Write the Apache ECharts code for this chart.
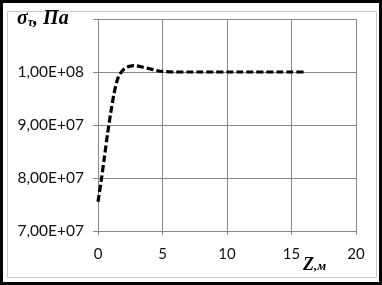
<!DOCTYPE html>
<html><head><meta charset="utf-8">
<script src="https://cdn.jsdelivr.net/npm/echarts@6/dist/echarts.min.js"></script>
<style>html,body{margin:0;padding:0;background:#fff}#c{width:382px;height:285px}</style>
</head><body><div id="c"></div>
<script>
const zValues = [0, 0.25, 0.5, 0.75, 1.0, 1.25, 1.5, 1.75, 2.0, 2.25, 2.5, 2.75, 3.0, 3.5, 4.0, 4.5, 5.0, 6, 7, 8, 9, 10, 11, 12, 13, 14, 15, 16];
const stressValues = [7.55e7, 7.95e7, 8.4e7, 8.85e7, 9.25e7, 9.6e7, 9.85e7, 9.98e7, 1.005e8, 1.009e8, 1.011e8, 1.012e8, 1.0115e8, 1.009e8, 1.006e8, 1.003e8, 1.001e8, 1.0e8, 1.0e8, 1.0e8, 1.0e8, 1.0e8, 1.0e8, 1.0e8, 1.0e8, 1.0e8, 1.0e8, 1.0e8];
const xTicks = [0, 5, 10, 15, 20];
const yTicks = [7e7, 8e7, 9e7, 1e8];

function sci(v) {
  const e = Math.floor(Math.log10(v) + 1e-9);
  const m = v / Math.pow(10, e);
  return m.toFixed(2).replace('.', ',') + 'E+' + String(e).padStart(2, '0');
}
const chart = echarts.init(document.getElementById('c'));
chart.setOption({
  animation: false,
  graphic: [
    {type: 'rect', shape: {x: 1.5, y: 1.5, width: 379, height: 282}, style: {fill: 'none', stroke: '#000', lineWidth: 3}},
    {type: 'rect', shape: {x: 7.5, y: 11.5, width: 369, height: 266}, style: {fill: 'none', stroke: '#c8c8c8', lineWidth: 1}},
    {type: 'text', left: 17, top: 9, style: {rich: {
        s: {fontFamily: 'Liberation Serif', fontStyle: 'italic', fontWeight: 'bold', fontSize: 20, fill: '#000'},
        t: {fontFamily: 'Liberation Serif', fontStyle: 'italic', fontWeight: 'bold', fontSize: 12, fill: '#000', verticalAlign: 'bottom', padding: [8, 0, 0, 0]}
      }, text: '{s|σ}{t|τ}{s|, Па}'}},
    {type: 'text', left: 303, top: 256, style: {rich: {
        z: {fontFamily: 'Liberation Serif', fontStyle: 'italic', fontWeight: 'bold', fontSize: 18, fill: '#000'},
        m: {fontFamily: 'Liberation Serif', fontStyle: 'italic', fontWeight: 'bold', fontSize: 13, fill: '#000', padding: [4, 0, 0, 0]}
      }, text: '{z|Z}{m|,м}'}}
  ],
  grid: {left: 98, top: 19, right: 26, bottom: 54, containLabel: false},
  xAxis: {
    type: 'value', min: 0, max: 20, interval: 5,
    axisLine: {show: true, lineStyle: {color: '#888', width: 1}},
    axisTick: {show: true, length: 4, lineStyle: {color: '#888'}},
    splitLine: {show: true, lineStyle: {color: '#888', width: 1}},
    axisLabel: {margin: 16, color: '#111', fontFamily: 'Lato', fontSize: 15,
      formatter: v => xTicks.includes(v) ? String(v) : ''}
  },
  yAxis: {
    type: 'value', min: 7e7, max: 1.1e8, interval: 1e7,
    axisLine: {show: true, lineStyle: {color: '#888', width: 1}},
    axisTick: {show: true, length: 5, lineStyle: {color: '#888'}},
    splitLine: {show: true, lineStyle: {color: '#888', width: 1}},
    axisLabel: {margin: 14, color: '#111', fontFamily: 'Lato', fontSize: 15.5,
      formatter: v => yTicks.some(t => Math.abs(t - v) < 1) ? sci(v) : ''}
  },
  series: [{
    type: 'line', smooth: 0.3, symbol: 'none',
    data: zValues.map((z, i) => [z, stressValues[i]]),
    lineStyle: {color: '#000', width: 3.2, type: [7, 3]}
  }]
});
</script></body></html>
